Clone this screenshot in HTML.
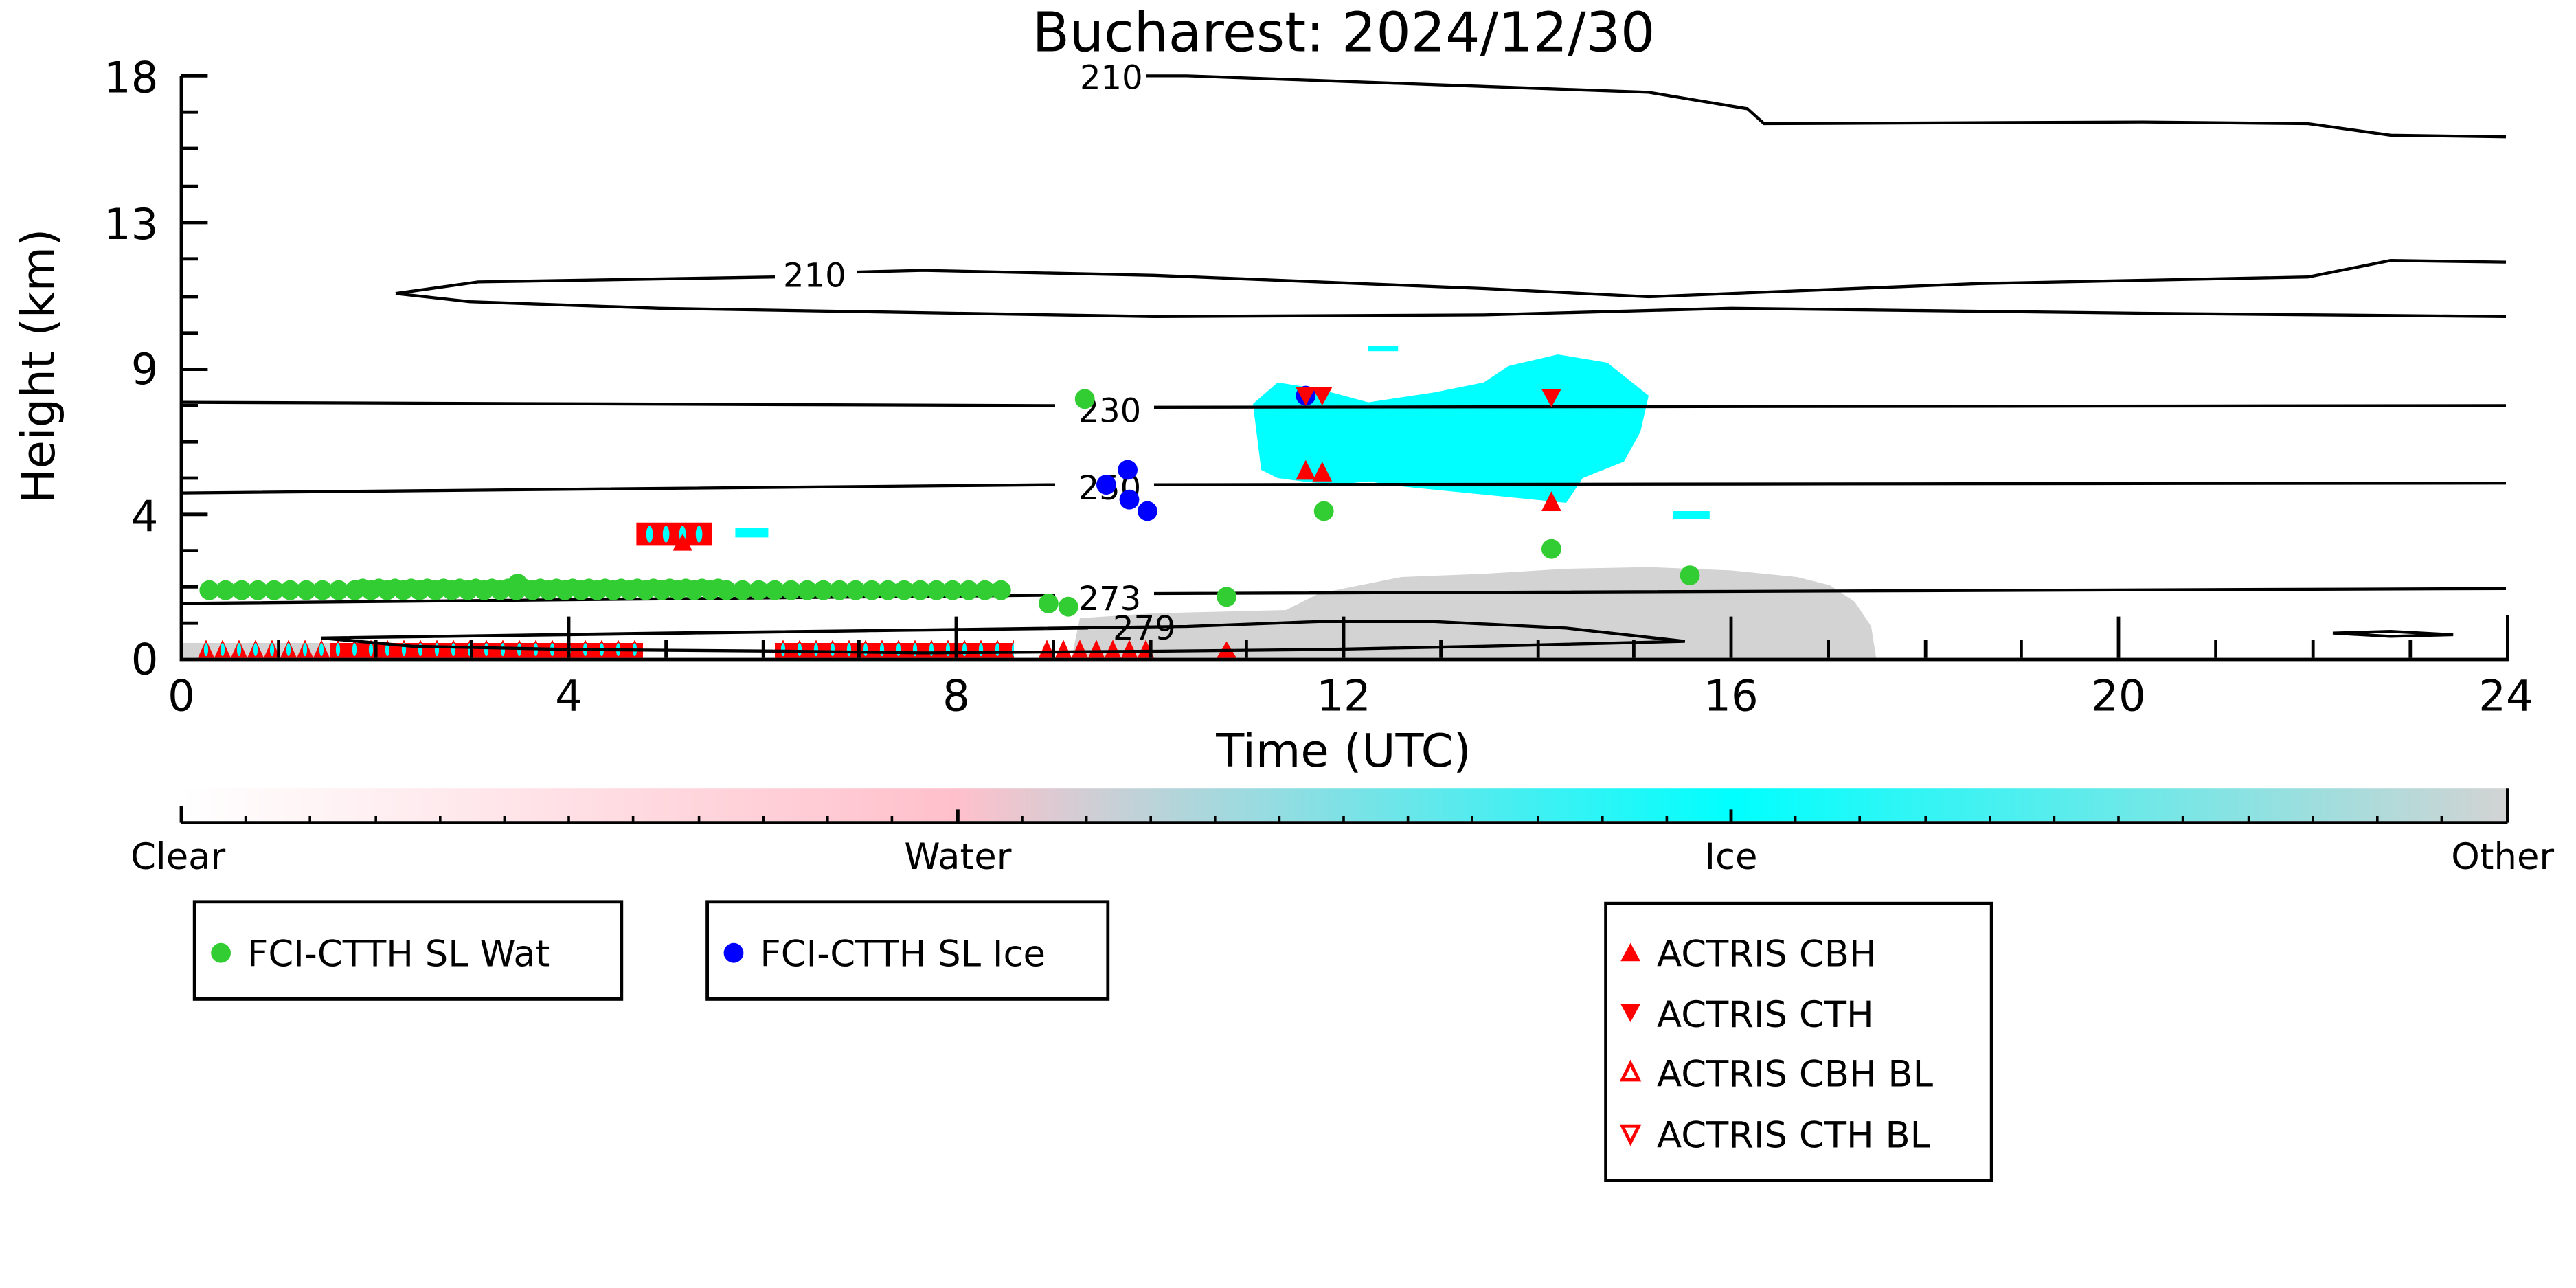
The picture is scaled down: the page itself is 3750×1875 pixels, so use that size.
<!DOCTYPE html>
<html><head><meta charset="utf-8"><style>html,body{margin:0;padding:0;background:#fff}svg{display:block}</style></head><body>
<svg width="3750" height="1875" viewBox="0 0 1562.5 781.25" xmlns="http://www.w3.org/2000/svg" font-family="DejaVu Sans, Liberation Sans, sans-serif">
<defs>
<linearGradient id="cb" x1="0" x2="1" y1="0" y2="0">
<stop offset="0" stop-color="#ffffff"/><stop offset="0.333" stop-color="#ffc0cb"/><stop offset="0.40" stop-color="#c8d0d6"/><stop offset="0.667" stop-color="#00ffff"/><stop offset="1" stop-color="#d3d3d3"/>
</linearGradient>
<pattern id="tri" x="0" y="388" width="10" height="11" patternUnits="userSpaceOnUse"><polygon points="0,11 5,0 10,11" fill="#ff0000"/></pattern>
<pattern id="dia" x="0" y="388" width="10" height="11" patternUnits="userSpaceOnUse"><polygon points="0,11 5,0 10,11" fill="#ff0000"/><ellipse cx="5" cy="6" rx="1.3" ry="4" fill="#00ffff"/></pattern>
</defs>
<rect width="1562.5" height="781.25" fill="#fff"/>
<polygon fill="#d3d3d3" points="650,399 655,375 700,372 780,370 800,360 850,350 900,348 950,345 1000,344 1050,346 1090,350 1110,355 1125,365 1135,380 1138,399"/>
<rect x="110" y="390" width="100" height="9" fill="#d3d3d3"/>
<path fill="#00ffff" d="M760,245 L775,232 L800,236 L830,244 L870,238 L900,232 L915,222 L945,215 L975,220 L1000,240 L995,262 L985,280 L960,290 L950,305 L920,302 L880,298 L850,295 L830,292 L810,294 L790,292 L775,290 L765,285 Z"/>
<rect x="1015" y="310" width="22" height="5" fill="#00ffff"/>
<rect x="446" y="320" width="20" height="6" fill="#00ffff"/>
<rect x="830" y="210" width="18" height="3" fill="#00ffff"/>
<g fill="none" stroke="#000" stroke-width="1.8">
<path d="M110,244 L640,246 M700,247 L1520,246"/>
<path d="M110,299 L640,294 M700,294 L1520,293"/>
<path d="M110,366 L640,361 M700,360 L1520,357"/>
<path d="M240,178 L290,171 L470,168 M520,165 L560,164 L700,167 L900,175 L1000,180 L1200,172 L1400,168 L1450,158 L1520,159"/>
<path d="M240,178 L285,183 L400,187 L700,192 L900,191 L1050,187 L1300,190 L1520,192"/>
<path d="M695,46 L720,46 L1000,56 L1060,66 L1070,75 L1300,74 L1400,75 L1450,82 L1520,83"/>
<path d="M1415,384 L1450,383 L1488,385 L1450,386 Z"/>
</g>
<rect x="200" y="390" width="190" height="9" fill="#ff0000"/>
<rect x="470" y="390" width="145" height="9" fill="#ff0000"/>
<rect x="120" y="388" width="270" height="11" fill="url(#dia)"/>
<rect x="470" y="388" width="145" height="11" fill="url(#dia)"/>
<rect x="630" y="388" width="70" height="11" fill="url(#tri)"/>
<polygon points="738,399 744,389 750,399" fill="#f00"/>
<path d="M195,387 L400,384 L660,381 M720,380 L800,377 L870,377 L950,381 L1022,389 L900,392 L800,394 L700,395 L560,396 L480,395 L350,394 L250,392 L195,387 Z" fill="none" stroke="#000" stroke-width="1.8"/>
<g font-size="20" fill="#000">
<rect x="470" y="155" width="50" height="22" fill="#fff"/><text x="475" y="174">210</text>
<text x="654" y="256">230</text>
<text x="654" y="303">250</text>
<text x="654" y="370">273</text>
<text x="675" y="388">279</text>
<text x="655" y="54">210</text>
</g>
<path d="M127,358 L612,358" stroke="#32cd32" stroke-width="12" stroke-linecap="round" stroke-dasharray="0 9.8" fill="none"/>
<path d="M220,356 L440,356" stroke="#32cd32" stroke-width="10" stroke-linecap="round" stroke-dasharray="0 9.8" fill="none"/>
<g fill="#32cd32">
<circle cx="314" cy="354" r="6"/><circle cx="636" cy="366" r="6"/><circle cx="648" cy="368" r="6"/><circle cx="658" cy="242" r="6"/>
<circle cx="744" cy="362" r="6"/><circle cx="803" cy="310" r="6"/><circle cx="941" cy="333" r="6"/><circle cx="1025" cy="349" r="6"/>
</g>
<g fill="#0000ff">
<circle cx="671" cy="294" r="6"/><circle cx="684" cy="285" r="6"/><circle cx="685" cy="303" r="6"/><circle cx="696" cy="310" r="6"/><circle cx="792" cy="240" r="6"/>
</g>
<g fill="#ff0000">
<polygon points="386,317 432,317 432,331 386,331"/>
<g fill="#00ffff"><ellipse cx="394" cy="324" rx="2" ry="5"/><ellipse cx="404" cy="324" rx="2" ry="5"/><ellipse cx="414" cy="324" rx="2" ry="5"/><ellipse cx="424" cy="324" rx="2" ry="5"/></g>
<polygon points="408,334 414,324 420,334"/>
<polygon points="786,235 798,235 792,246"/><polygon points="796,235 808,235 802,246"/>
<polygon points="786,291 792,279 798,291"/><polygon points="796,292 802,280 808,292"/>
<polygon points="935,236 947,236 941,247"/><polygon points="935,310 941,298 947,310"/>
</g>
<g stroke="#000" stroke-width="2" fill="none">
<path d="M110,46 L110,400 L1521,400 L1521,373"/>
<path d="M110,46 H126 M110,68 H120 M110,90 H120 M110,113 H120 M110,135 H126 M110,157 H120 M110,180 H120 M110,202 H120 M110,224 H126 M110,246 H120 M110,268 H120 M110,290 H120 M110,312 H126 M110,334 H120 M110,356 H120 M110,378 H120"/>
<path d="M169,399 V388 M228,399 V388 M286,399 V388 M345,399 V374 M404,399 V388 M463,399 V388 M521,399 V388 M580,399 V374 M639,399 V388 M698,399 V388 M756,399 V388 M815,399 V374 M874,399 V388 M933,399 V388 M991,399 V388 M1050,399 V374 M1109,399 V388 M1168,399 V388 M1226,399 V388 M1285,399 V374 M1344,399 V388 M1403,399 V388 M1462,399 V388"/>
</g>
<g font-size="26" fill="#000" text-anchor="end">
<text x="96" y="56">18</text><text x="96" y="145">13</text><text x="96" y="233">9</text><text x="96" y="322">4</text><text x="96" y="409">0</text>
</g>
<g font-size="26" fill="#000" text-anchor="middle">
<text x="110" y="431">0</text><text x="345" y="431">4</text><text x="580" y="431">8</text><text x="815" y="431">12</text><text x="1050" y="431">16</text><text x="1285" y="431">20</text><text x="1520" y="431">24</text>
<text x="815" y="465" font-size="28">Time (UTC)</text>
<text x="815" y="31" font-size="33">Bucharest: 2024/12/30</text>
<text transform="translate(33,222) rotate(-90)" font-size="28">Height (km)</text>
</g>
<rect x="110" y="478" width="1411" height="20" fill="url(#cb)"/>
<path d="M110,499 H1521 M110,499 V489 M1521,499 V478 M581,499 V491 M1050,499 V491" stroke="#000" stroke-width="2" fill="none"/>
<path d="M149,499 V495 M188,499 V495 M228,499 V495 M267,499 V495 M306,499 V495 M345,499 V495 M384,499 V495 M424,499 V495 M463,499 V495 M502,499 V495 M541,499 V495 M620,499 V495 M659,499 V495 M698,499 V495 M737,499 V495 M776,499 V495 M815,499 V495 M854,499 V495 M893,499 V495 M933,499 V495 M972,499 V495 M1011,499 V495 M1089,499 V495 M1128,499 V495 M1168,499 V495 M1207,499 V495 M1246,499 V495 M1285,499 V495 M1324,499 V495 M1364,499 V495 M1403,499 V495 M1442,499 V495 M1481,499 V495" stroke="#000" stroke-width="1.5"/>
<g font-size="22" fill="#000" text-anchor="middle">
<text x="108" y="527">Clear</text><text x="581" y="527">Water</text><text x="1050" y="527">Ice</text><text x="1518" y="527">Other</text>
</g>
<g stroke="#000" stroke-width="2" fill="#fff">
<rect x="118" y="547" width="259" height="59"/><rect x="429" y="547" width="243" height="59"/><rect x="974" y="548" width="234" height="168"/>
</g>
<g font-size="22" fill="#000">
<circle cx="134" cy="578" r="6" fill="#32cd32"/><text x="150" y="586">FCI-CTTH SL Wat</text>
<circle cx="445" cy="578" r="6" fill="#0000ff"/><text x="461" y="586">FCI-CTTH SL Ice</text>
<polygon points="983,583 989,572 995,583" fill="#f00"/><text x="1005" y="586">ACTRIS CBH</text>
<polygon points="983,609 995,609 989,620" fill="#f00"/><text x="1005" y="623">ACTRIS CTH</text>
<polygon points="984,655 989,645 994,655" fill="none" stroke="#f00" stroke-width="2"/><text x="1005" y="659">ACTRIS CBH BL</text>
<polygon points="984,683 994,683 989,693" fill="none" stroke="#f00" stroke-width="2"/><text x="1005" y="696">ACTRIS CTH BL</text>
</g>
</svg>
</body></html>
